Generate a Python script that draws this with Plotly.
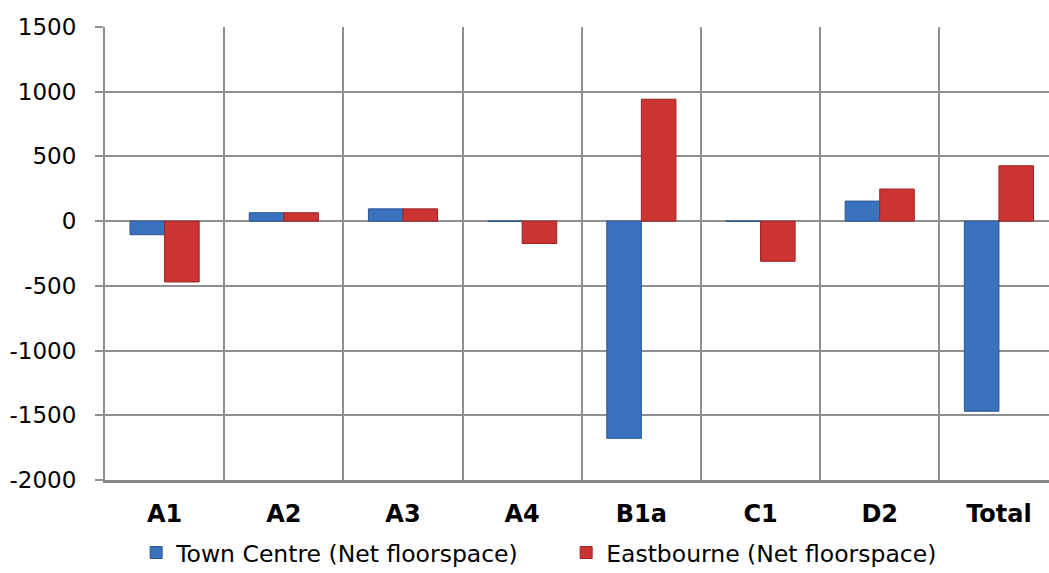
import plotly.graph_objects as go

categories = ["A1", "A2", "A3", "A4", "B1a", "C1", "D2", "Total"]
town_centre = [-105, 65, 95, 0, -1678, 0, 155, -1469]
eastbourne = [-470, 65, 95, -173, 942, -310, 248, 428]
y_ticks = [-2000, -1500, -1000, -500, 0, 500, 1000, 1500]
y_tick_text = [str(v) for v in y_ticks]

FONT = "DejaVu Sans"
GRID = "#8f8f8f"

fig = go.Figure()
fig.add_trace(go.Bar(
    name="Town Centre (Net floorspace)",
    x=categories, y=town_centre,
    marker=dict(color="#3b72bd", line=dict(color="#2a5592", width=1)),
))
fig.add_trace(go.Bar(
    name="Eastbourne (Net floorspace)",
    x=categories, y=eastbourne,
    marker=dict(color="#cc3434", line=dict(color="#9c2222", width=1)),
))

fig.update_layout(
    width=1049, height=573,
    margin=dict(l=105, r=0, t=27, b=93, autoexpand=False),
    paper_bgcolor="white", plot_bgcolor="white",
    barmode="group", bargap=0.42, bargroupgap=0,
    font=dict(family=FONT, size=22, color="black"),
    showlegend=True,
    legend=dict(
        orientation="h", x=0.033, xanchor="left", y=-0.112, yanchor="top",
        font=dict(family=FONT, size=23.5, color="black"),
        entrywidth=385, itemwidth=30, bgcolor="rgba(0,0,0,0)",
        tracegroupgap=0,
    ),
    xaxis=dict(
        range=[-0.5, 7.42], tickson="boundaries", showgrid=True,
        gridcolor=GRID, gridwidth=2, ticks="", ticklen=0,
        showline=True, linecolor="#858585", linewidth=3,
        tickfont=dict(family=FONT, size=24, weight="bold"),
        ticklabelstandoff=10, zeroline=False,
    ),
    yaxis=dict(
        range=[-2000, 1500], tickvals=y_ticks, ticktext=y_tick_text,
        showgrid=True, gridcolor=GRID, gridwidth=2, zeroline=False,
        ticks="outside", ticklen=8, tickcolor=GRID, tickwidth=2,
        showline=True, linecolor=GRID, linewidth=2,
        tickfont=dict(family=FONT, size=23), ticklabelstandoff=14,
    ),
)

fig.write_html("out.html")
